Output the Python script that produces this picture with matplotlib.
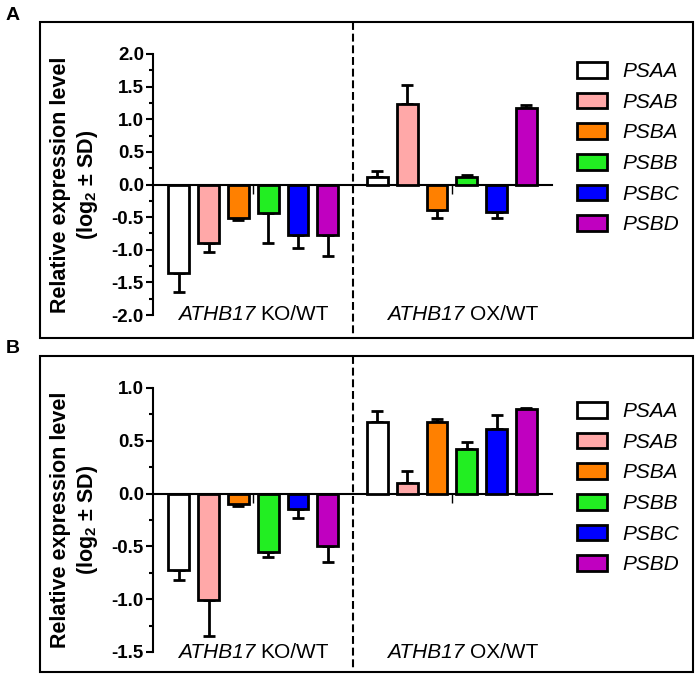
import numpy as np
import matplotlib
matplotlib.use("Agg")
import matplotlib.pyplot as plt
from matplotlib.patches import Patch, Rectangle
from matplotlib.offsetbox import TextArea, HPacker, AnnotationBbox
from matplotlib import transforms

plt.rcParams['font.family'] = ['Liberation Sans', 'DejaVu Sans']
plt.rcParams['mathtext.fontset'] = 'custom'
plt.rcParams['mathtext.rm'] = 'Liberation Sans'
plt.rcParams['mathtext.it'] = 'Liberation Sans:italic'
plt.rcParams['mathtext.bf'] = 'Liberation Sans:bold'
plt.rcParams['axes.unicode_minus'] = False

# --- data ---
genes = ['PSAA', 'PSAB', 'PSBA', 'PSBB', 'PSBC', 'PSBD']
colors = ['#FFFFFF', '#FFA8A8', '#FF8000', '#22EE22', '#0000FF', '#C000C0']
gene_name = 'ATHB17'
group_suffix = ['KO/WT', 'OX/WT']

# panel A
a_ko = [-1.36, -0.90, -0.52, -0.43, -0.78, -0.78]
a_ko_sd = [0.28, 0.13, 0.03, 0.47, 0.19, 0.32]
a_ox = [0.11, 1.23, -0.39, 0.11, -0.42, 1.18]
a_ox_sd = [0.09, 0.29, 0.12, 0.03, 0.10, 0.04]
a_yticks = [-2.0, -1.5, -1.0, -0.5, 0.0, 0.5, 1.0, 1.5, 2.0]

# panel B
b_ko = [-0.72, -1.01, -0.10, -0.55, -0.15, -0.50]
b_ko_sd = [0.10, 0.34, 0.02, 0.05, 0.08, 0.15]
b_ox = [0.68, 0.10, 0.68, 0.42, 0.61, 0.80]
b_ox_sd = [0.10, 0.11, 0.03, 0.07, 0.13, 0.01]
b_yticks = [-1.5, -1.0, -0.5, 0.0, 0.5, 1.0]

W, H = 700, 680
fig = plt.figure(figsize=(7, 6.8), dpi=100)


def fx(px):
    return px / W


def fy(py):
    return 1 - py / H


def draw_panel(letter, box_top, box_bot, ax_top, ax_bot, ko, ko_sd, ox, ox_sd, yticks, leg_top):
    # outer frame
    fig.patches.append(Rectangle((fx(40), fy(box_bot)), fx(693) - fx(40), (box_bot - box_top) / H,
                                 transform=fig.transFigure, fill=False, lw=1.5, ec='black'))
    fig.text(fx(13), fy(box_top - 7), letter, fontsize=14, fontweight='bold', ha='center', va='center')

    ax = fig.add_axes([fx(153), fy(ax_bot), fx(552) - fx(153), (ax_bot - ax_top) / H])
    pos_ko = np.arange(6)
    pos_ox = np.arange(6) + 6 + 2 / 3

    for pos, vals, sds in [(pos_ko, ko, ko_sd), (pos_ox, ox, ox_sd)]:
        vals = np.array(vals)
        sds = np.array(sds)
        lo = np.where(vals < 0, sds, 0)
        hi = np.where(vals > 0, sds, 0)
        ax.errorbar(pos, vals, yerr=[lo, hi], fmt='none', ecolor='black',
                    elinewidth=2, capsize=4.5, capthick=2, zorder=2)
        ax.bar(pos, vals, width=0.7, color=colors, edgecolor='black', linewidth=2, zorder=3)

    ax.set_xlim(-0.87, 12.53)
    ax.set_ylim(yticks[0], yticks[-1])
    ax.set_yticks(yticks)
    ax.set_yticks(np.arange(yticks[0], yticks[-1] + 0.01, 0.25), minor=True)
    ax.set_yticklabels(['%.1f' % t for t in yticks], fontweight='bold', fontsize=13.5)
    ax.tick_params(axis='y', which='major', length=5, width=1.5, pad=1.5)
    ax.tick_params(axis='y', which='minor', length=3, width=1.5)

    centers = [pos_ko.mean(), pos_ox.mean()]
    ax.set_xticks(centers)
    ax.set_xticklabels([])
    ax.tick_params(axis='x', length=6.5, width=1)

    for s in ['top', 'right']:
        ax.spines[s].set_visible(False)
    ax.spines['bottom'].set_position(('data', 0))
    ax.spines['left'].set_linewidth(1.5)
    ax.spines['bottom'].set_linewidth(1.5)
    ax.patch.set_alpha(0)

    # group labels: italic gene name + plain suffix
    label_x = [centers[0], centers[1] + 0.37]
    for c, suffix in zip(label_x, group_suffix):
        box = HPacker(children=[TextArea(gene_name, textprops=dict(style='italic', fontsize=15)),
                                TextArea(suffix, textprops=dict(fontsize=15))],
                      sep=4, pad=0, align='baseline')
        ab = AnnotationBbox(box, (c, yticks[0]), xycoords='data', frameon=False,
                            box_alignment=(0.5, 0.5), pad=0, zorder=5)
        ax.add_artist(ab)

    # dashed separator between groups, full frame height
    mid = (pos_ko[-1] + pos_ox[0]) / 2
    trans = transforms.blended_transform_factory(ax.transData, fig.transFigure)
    ax.plot([mid, mid], [fy(box_top), fy(box_bot)], transform=trans, color='black',
            lw=1.5, ls=(0, (3.8, 1.8)), clip_on=False)

    fig.text(fx(75), fy((ax_top + ax_bot) / 2), 'Relative expression level\n(log$_\\mathbf{2}$ ± SD)',
             rotation=90, ha='center', va='center', fontsize=15.5, fontweight='bold',
             linespacing=1.25, multialignment='center')

    handles = [Patch(facecolor=c, edgecolor='black', linewidth=2, label=g) for c, g in zip(colors, genes)]
    fig.legend(handles=handles, loc='upper left', bbox_to_anchor=(fx(577), fy(leg_top)),
               frameon=False, prop={'style': 'italic', 'size': 15}, handlelength=1.45,
               handleheight=0.77, handletextpad=0.75, labelspacing=0.56,
               borderpad=0, borderaxespad=0)
    return ax


draw_panel('A', 22, 338, 54, 315, a_ko, a_ko_sd, a_ox, a_ox_sd, a_yticks, 62)
draw_panel('B', 356, 672, 388, 652, b_ko, b_ko_sd, b_ox, b_ox_sd, b_yticks, 402)

fig.savefig('out.png', dpi=100)
